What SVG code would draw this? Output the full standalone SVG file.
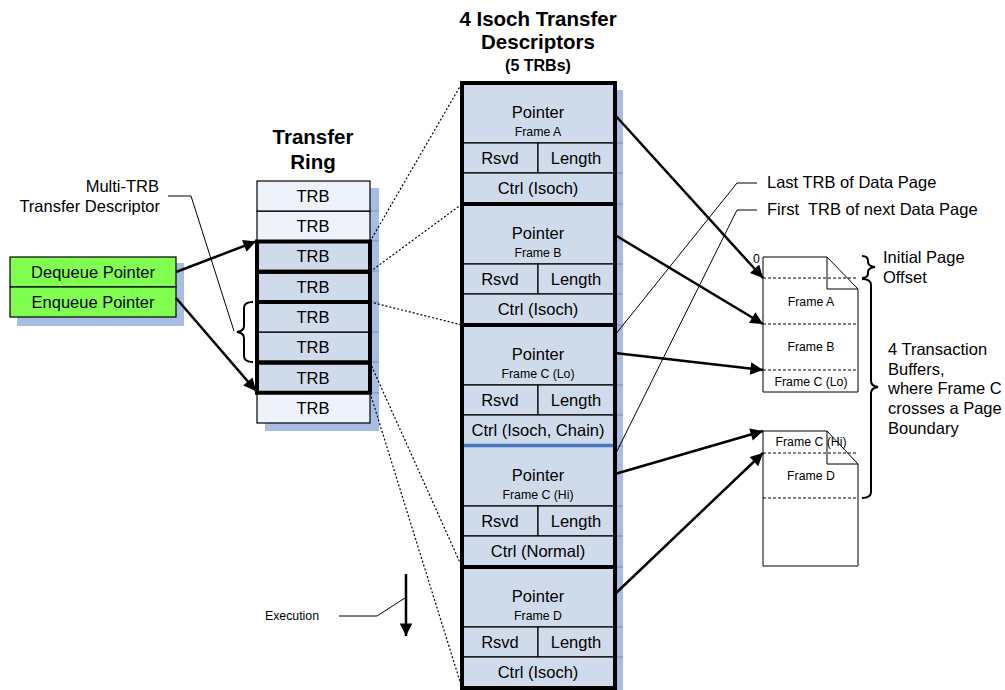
<svg xmlns="http://www.w3.org/2000/svg" width="1005" height="690" viewBox="0 0 1005 690">
<style>
text{font-family:"Liberation Sans",Arial,sans-serif;fill:#000}
.t14{font-size:16.5px}
.t11{font-size:12.3px}
.b17{font-size:20.5px;font-weight:bold}
.b13{font-size:16px;font-weight:bold}
.m{text-anchor:middle}
.cell{fill:#CFDBEB;stroke:#000;stroke-width:1.2}
.light{fill:#EEF2FA;stroke:#000;stroke-width:1.2}
.td{fill:none;stroke:#000;stroke-width:4}
.shadow{fill:#A7BDE3}
.tick{stroke:#7FA0D6;stroke-width:1.5}
.dot{fill:none;stroke:#000;stroke-width:1.2;stroke-dasharray:2,2}
.thin{fill:none;stroke:#000;stroke-width:1}
.arr{fill:none;stroke:#000;stroke-width:2.5;marker-end:url(#ah)}
.page{fill:#fff;stroke:#000;stroke-width:1}
.pdash{stroke:#000;stroke-width:1.2;stroke-dasharray:3,2}
.brace{fill:none;stroke:#000;stroke-width:2}
</style>
<defs>
<marker id="ah" viewBox="0 0 10 10" refX="10" refY="5" markerWidth="6" markerHeight="5" orient="auto" markerUnits="strokeWidth">
<path d="M0,0 L10,5 L0,10 Z" fill="#000"/>
</marker>
</defs>

<rect width="1005" height="690" fill="#fff"/>

<!-- Titles -->
<g id="titles">
<text class="b17 m" x="313" y="144">Transfer</text>
<text class="b17 m" x="313" y="169">Ring</text>
<text class="b17 m" x="538" y="26">4 Isoch Transfer</text>
<text class="b17 m" x="538" y="49">Descriptors</text>
<text class="b13 m" x="538" y="71">(5 TRBs)</text>
</g>

<!-- Pointers -->
<g id="pointers">
<rect class="shadow" x="17" y="263" width="167" height="63"/>
<rect x="10" y="257" width="166" height="30" fill="#80FF50" stroke="#000" stroke-width="1.2"/>
<rect x="10" y="287" width="166" height="30" fill="#80FF50" stroke="#000" stroke-width="1.2"/>
<text class="t14 m" x="93" y="278">Dequeue Pointer</text>
<text class="t14 m" x="93" y="308">Enqueue Pointer</text>
</g>

<!-- Transfer ring -->
<g id="transfer-ring">
<rect class="shadow" x="265" y="188" width="114" height="243"/>
<g class="tick">
<line x1="371" y1="211" x2="379" y2="211"/><line x1="371" y1="241" x2="379" y2="241"/>
<line x1="371" y1="271" x2="379" y2="271"/><line x1="371" y1="302" x2="379" y2="302"/>
<line x1="371" y1="332" x2="379" y2="332"/><line x1="371" y1="362" x2="379" y2="362"/>
<line x1="371" y1="393" x2="379" y2="393"/>
</g>
<rect class="light" x="257" y="181" width="113" height="30.25"/>
<rect class="light" x="257" y="211.25" width="113" height="30.25"/>
<rect class="cell" x="257" y="241.5" width="113" height="30.25"/>
<rect class="cell" x="257" y="271.75" width="113" height="30.25"/>
<rect class="cell" x="257" y="302" width="113" height="30.25"/>
<rect class="cell" x="257" y="332.25" width="113" height="30.25"/>
<rect class="cell" x="257" y="362.5" width="113" height="30.25"/>
<rect class="light" x="257" y="392.75" width="113" height="30.25"/>
<rect class="td" x="257" y="241.5" width="113" height="30.25"/>
<rect class="td" x="257" y="271.75" width="113" height="30.25"/>
<rect class="td" x="257" y="302" width="113" height="60.5"/>
<rect class="td" x="257" y="362.5" width="113" height="30.25"/>
<g class="t14 m">
<text x="313" y="202">TRB</text><text x="313" y="232">TRB</text>
<text x="313" y="262">TRB</text><text x="313" y="293">TRB</text>
<text x="313" y="323">TRB</text><text x="313" y="353">TRB</text>
<text x="313" y="384">TRB</text><text x="313" y="414">TRB</text>
</g>
</g>

<!-- Descriptors -->
<g id="descriptors">
<rect class="shadow" x="615" y="90" width="8" height="600"/>
<g class="tick">
<line x1="615" y1="143" x2="623" y2="143"/><line x1="615" y1="173" x2="623" y2="173"/><line x1="615" y1="204" x2="623" y2="204"/>
<line x1="615" y1="264" x2="623" y2="264"/><line x1="615" y1="294" x2="623" y2="294"/><line x1="615" y1="325" x2="623" y2="325"/>
<line x1="615" y1="385" x2="623" y2="385"/><line x1="615" y1="415" x2="623" y2="415"/><line x1="615" y1="446" x2="623" y2="446"/>
<line x1="615" y1="506" x2="623" y2="506"/><line x1="615" y1="536" x2="623" y2="536"/><line x1="615" y1="567" x2="623" y2="567"/>
<line x1="615" y1="627" x2="623" y2="627"/><line x1="615" y1="657" x2="623" y2="657"/>
</g>
</g>

<g id="td-a">
<rect class="cell" x="462" y="83" width="153" height="60"/>
<rect class="cell" x="462" y="143" width="76" height="30"/>
<rect class="cell" x="538" y="143" width="77" height="30"/>
<rect class="cell" x="462" y="173" width="153" height="31"/>
<text class="t14 m" x="538" y="118">Pointer</text>
<text class="t11 m" x="538" y="136">Frame A</text>
<text class="t14 m" x="500" y="164">Rsvd</text>
<text class="t14 m" x="576" y="164">Length</text>
<text class="t14 m" x="538" y="194">Ctrl (Isoch)</text>
<rect class="td" x="462" y="83" width="153" height="121"/>
</g>

<g id="td-b">
<rect class="cell" x="462" y="204" width="153" height="60"/>
<rect class="cell" x="462" y="264" width="76" height="30"/>
<rect class="cell" x="538" y="264" width="77" height="30"/>
<rect class="cell" x="462" y="294" width="153" height="31"/>
<text class="t14 m" x="538" y="239">Pointer</text>
<text class="t11 m" x="538" y="257">Frame B</text>
<text class="t14 m" x="500" y="285">Rsvd</text>
<text class="t14 m" x="576" y="285">Length</text>
<text class="t14 m" x="538" y="315">Ctrl (Isoch)</text>
<rect class="td" x="462" y="204" width="153" height="121"/>
</g>

<g id="td-c">
<rect class="cell" x="462" y="325" width="153" height="60"/>
<rect class="cell" x="462" y="385" width="76" height="30"/>
<rect class="cell" x="538" y="385" width="77" height="30"/>
<rect class="cell" x="462" y="415" width="153" height="31"/>
<text class="t14 m" x="538" y="360">Pointer</text>
<text class="t11 m" x="538" y="378">Frame C (Lo)</text>
<text class="t14 m" x="500" y="406">Rsvd</text>
<text class="t14 m" x="576" y="406">Length</text>
<text class="t14 m" x="538" y="436">Ctrl (Isoch, Chain)</text>
<rect class="cell" x="462" y="446" width="153" height="60"/>
<rect class="cell" x="462" y="506" width="76" height="30"/>
<rect class="cell" x="538" y="506" width="77" height="30"/>
<rect class="cell" x="462" y="536" width="153" height="31"/>
<text class="t14 m" x="538" y="481">Pointer</text>
<text class="t11 m" x="538" y="499">Frame C (Hi)</text>
<text class="t14 m" x="500" y="527">Rsvd</text>
<text class="t14 m" x="576" y="527">Length</text>
<text class="t14 m" x="538" y="557">Ctrl (Normal)</text>
<line x1="462" y1="445.5" x2="615" y2="445.5" stroke="#4A78C0" stroke-width="3.5"/>
<rect class="td" x="462" y="325" width="153" height="242"/>
</g>

<g id="td-d">
<rect class="cell" x="462" y="567" width="153" height="60"/>
<rect class="cell" x="462" y="627" width="76" height="30"/>
<rect class="cell" x="538" y="627" width="77" height="30"/>
<rect class="cell" x="462" y="657" width="153" height="31"/>
<text class="t14 m" x="538" y="602">Pointer</text>
<text class="t11 m" x="538" y="620">Frame D</text>
<text class="t14 m" x="500" y="648">Rsvd</text>
<text class="t14 m" x="576" y="648">Length</text>
<text class="t14 m" x="538" y="678">Ctrl (Isoch)</text>
<rect class="td" x="462" y="567" width="153" height="121"/>
</g>

<!-- Pages -->
<g id="page-1">
<path class="page" d="M763,257 H827 L858,289 V392 H763 Z"/>
<path class="thin" d="M827,257 V289 H858"/>
<line class="pdash" x1="763" y1="278" x2="858" y2="278"/>
<line class="pdash" x1="763" y1="324" x2="858" y2="324"/>
<line class="pdash" x1="763" y1="370" x2="858" y2="370"/>
<text class="t11" x="753" y="263">0</text>
<text class="t11 m" x="811" y="306">Frame A</text>
<text class="t11 m" x="811" y="351">Frame B</text>
<text class="t11 m" x="811" y="386">Frame C (Lo)</text>
</g>

<g id="page-2">
<path class="page" d="M763,431 H827 L858,464 V566 H763 Z"/>
<text class="t11 m" x="811" y="446">Frame C (Hi)</text>
<path class="thin" d="M827,431 V464 H858"/>
<line class="pdash" x1="763" y1="453" x2="858" y2="453"/>
<line class="pdash" x1="763" y1="498" x2="858" y2="498"/>
<text class="t11 m" x="811" y="480">Frame D</text>
</g>

<!-- Labels -->
<g id="labels">
<text class="t14" x="159" y="192" text-anchor="end">Multi-TRB</text>
<text class="t14" x="160" y="212" text-anchor="end">Transfer Descriptor</text>
<text class="t14" x="767" y="188">Last TRB of Data Page</text>
<text class="t14" x="767" y="215" xml:space="preserve">First  TRB of next Data Page</text>
<text class="t14" x="883" y="263">Initial Page</text>
<text class="t14" x="883" y="283">Offset</text>
<text class="t14" x="888" y="355">4 Transaction</text>
<text class="t14" x="888" y="375">Buffers,</text>
<text class="t14" x="888" y="394">where Frame C</text>
<text class="t14" x="888" y="414">crosses a Page</text>
<text class="t14" x="888" y="434">Boundary</text>
<text class="t11" x="265" y="620">Execution</text>
</g>

<!-- Connectors -->
<g id="connectors">
<g class="dot">
<line x1="370" y1="241.5" x2="462" y2="83"/>
<line x1="370" y1="271.75" x2="462" y2="204"/>
<line x1="370" y1="302" x2="462" y2="325"/>
<line x1="370" y1="362.5" x2="462" y2="567"/>
<line x1="370" y1="392.75" x2="462" y2="688"/>
</g>
<line class="arr" x1="176" y1="272" x2="256" y2="241.5"/>
<line class="arr" x1="176" y1="298" x2="256" y2="391"/>
<line class="arr" x1="615" y1="115" x2="763" y2="278"/>
<line class="arr" x1="615" y1="235" x2="763" y2="324"/>
<line class="arr" x1="615" y1="353" x2="763" y2="370"/>
<line class="arr" x1="615" y1="474" x2="763" y2="431"/>
<line class="arr" x1="615" y1="594" x2="763" y2="453"/>
<line class="arr" x1="406" y1="574" x2="406" y2="636"/>
<polyline class="thin" points="168,196 191,196 234,331"/>
<polyline class="thin" points="757,183 737,183 615,335"/>
<polyline class="thin" points="757,210 737,210 616,453"/>
<polyline class="thin" points="339,616 377,616 405,598"/>
<path class="brace" d="M253,302 Q244,302 244,308 V326 Q244,331 237,332 Q244,333 244,338 V356 Q244,362 253,362"/>
<path class="brace" d="M862,256 Q868,256 868,261 V262 Q868,266 875,267 Q868,268 868,272 V273 Q868,278 862,278"/>
<path class="brace" d="M862,279 Q871,279 871,285 V381 Q871,386 878,387 Q871,388 871,393 V492 Q871,498 862,498"/>
</g>
</svg>
